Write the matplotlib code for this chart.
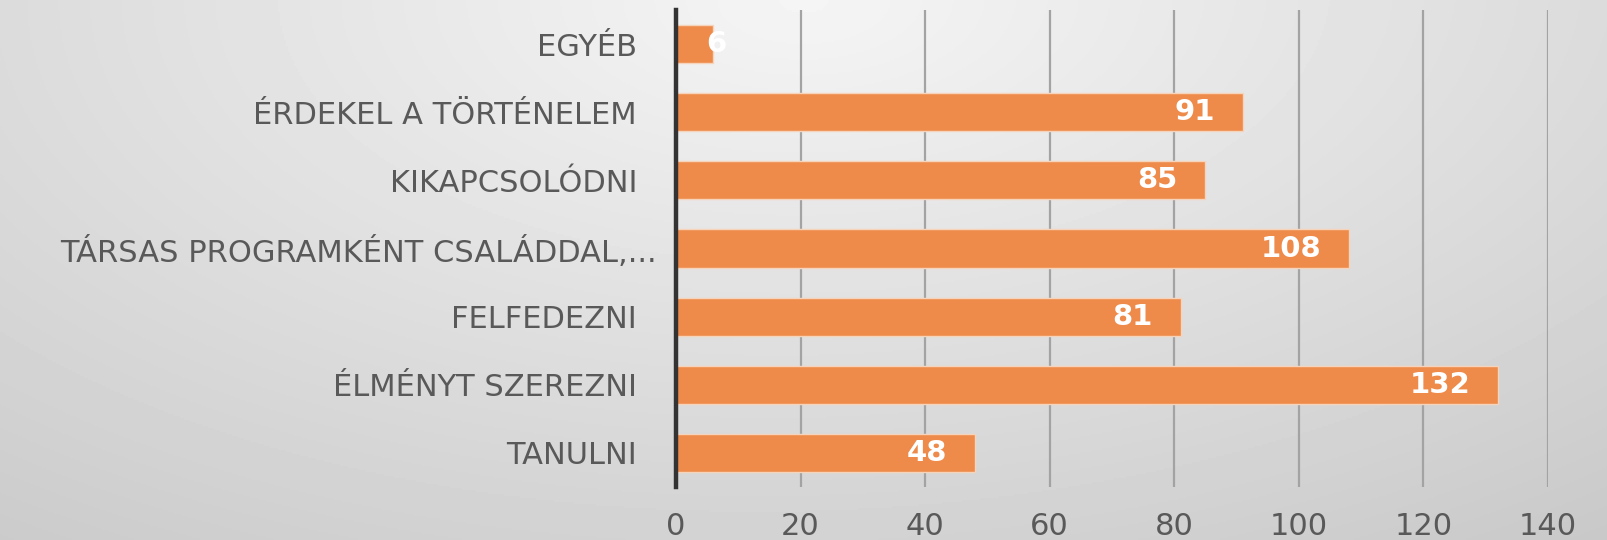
import numpy as np
import matplotlib
matplotlib.use("Agg")
import matplotlib.pyplot as plt

categories = [
    "TANULNI  ",
    "ÉLMÉNYT SZEREZNI  ",
    "FELFEDEZNI  ",
    "TÁRSAS PROGRAMKÉNT CSALÁDDAL,...",
    "KIKAPCSOLÓDNI  ",
    "ÉRDEKEL A TÖRTÉNELEM  ",
    "EGYÉB  ",
]
values = [48, 132, 81, 108, 85, 91, 6]
xticks = [0, 20, 40, 60, 80, 100, 120, 140]

BAR = "#ee8a4a"
TEXT = "#595959"

plt.rcParams["font.family"] = ["DejaVu Sans"]

fig = plt.figure(figsize=(16.08, 5.40), dpi=100)

# radial grey background, lightest at the top centre
bg = fig.add_axes([0, 0, 1, 1], zorder=-1)
yy, xx = np.mgrid[0:1:270j, 0:1:804j]
dist = np.sqrt(((xx - 0.5) * 0.2) ** 2 + (yy * 0.13) ** 2)
shade = np.clip(0.96 - dist - 0.01 * xx * yy, 0.75, 0.96)
bg.imshow(shade, cmap="gray", vmin=0, vmax=1, aspect="auto",
          extent=[0, 1, 0, 1], origin="upper")
bg.set_axis_off()

ax = fig.add_axes([0.4204, 0.0981, 0.5423, 0.8833])
ax.patch.set_alpha(0)
y = np.arange(len(categories))
ax.barh(y, values, height=0.56, color=BAR, edgecolor="#f6d3bb",
        linewidth=1.0, zorder=3)

for yi, v in zip(y, values):
    if v < 10:
        ax.annotate(str(v), (v, yi), xytext=(2, 0), textcoords="offset points",
                    ha="center", va="center", color="white",
                    fontsize=21, fontweight="bold", zorder=4)
    else:
        ax.annotate(str(v), (v, yi), xytext=(-20, 0), textcoords="offset points",
                    ha="right", va="center", color="white",
                    fontsize=21, fontweight="bold", zorder=4)

ax.set_xlim(0, 140)
ax.set_ylim(-0.5, 6.5)
ax.set_xticks(xticks)
ax.set_yticks(y)
ax.set_yticklabels(categories)
ax.xaxis.grid(True, color="#a3a3a3", linewidth=1.6, zorder=0)
ax.set_axisbelow(True)

for side in ("top", "right", "bottom"):
    ax.spines[side].set_visible(False)
ax.spines["left"].set_color("#333333")
ax.spines["left"].set_linewidth(3.2)
ax.spines["left"].set_zorder(5)

ax.tick_params(axis="y", length=0, pad=14, labelsize=22, labelcolor=TEXT)
ax.tick_params(axis="x", length=0, pad=18, labelsize=22, labelcolor=TEXT)

fig.savefig("out.png", dpi=100)
